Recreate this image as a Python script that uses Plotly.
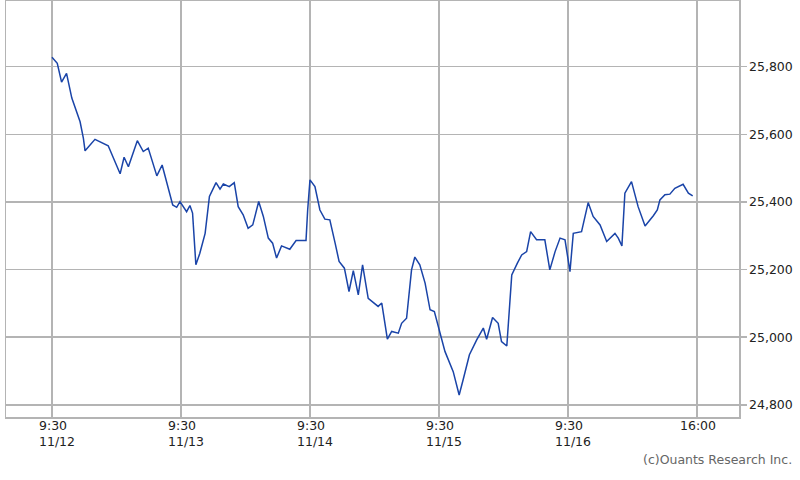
import plotly.graph_objects as go

# minutes since 9:30 on 11/12 (390 trading minutes per day)
minutes = [0, 16, 29, 44, 60, 75, 85, 95, 100, 130, 170, 206, 218, 231, 258, 276, 291, 317, 333, 365, 377, 387,
           407, 417, 425, 435, 447, 463, 476, 496, 508, 518, 536, 551, 563, 578, 593, 607, 625, 639, 654, 667,
           679, 694, 719, 738, 768, 773, 780,
           795, 810, 825, 840, 856, 868, 884, 898, 911, 926, 939, 956, 986, 997, 1014, 1027, 1047, 1057, 1072,
           1087, 1097, 1112, 1128, 1143, 1156, 1173,
           1188, 1213, 1231, 1243, 1262, 1284, 1304, 1314, 1332, 1349, 1359, 1375, 1382, 1390, 1407, 1420, 1435,
           1447, 1465, 1490, 1505, 1521, 1536, 1551, 1566,
           1576, 1601, 1621, 1636, 1657, 1677, 1702, 1712, 1723, 1732, 1752, 1772, 1793, 1818, 1830, 1838, 1853,
           1868, 1883, 1908, 1924, 1937]
prices = [25828, 25810, 25754, 25780, 25707, 25667, 25637, 25588, 25551, 25585, 25566, 25483, 25532, 25504, 25581,
          25549, 25559, 25477, 25509, 25391, 25384, 25401,
          25371, 25389, 25367, 25214, 25248, 25307, 25416, 25457, 25438, 25453, 25445, 25457, 25386, 25362, 25322,
          25332, 25401, 25357, 25293, 25278, 25234, 25270, 25260, 25286, 25286, 25376, 25465,
          25445, 25376, 25349, 25347, 25278, 25224, 25204, 25135, 25197, 25125, 25214, 25115, 25091, 25101, 24994,
          25017, 25012, 25041, 25056, 25199, 25237, 25214, 25160, 25081, 25076, 25012,
          24958, 24898, 24829, 24874, 24948, 24992, 25027, 24994, 25058, 25041, 24987, 24974, 25061, 25184, 25219,
          25243, 25253, 25312, 25288, 25288, 25199, 25253, 25293, 25288, 25194,
          25307, 25312, 25398, 25357, 25332, 25283, 25307, 25293, 25270, 25426, 25460, 25386, 25329, 25359, 25376,
          25406, 25421, 25423, 25440, 25452, 25426, 25418]

tick_minutes = [0, 390, 780, 1170, 1560, 1950]
tick_labels = ["9:30<br>11/12", "9:30<br>11/13", "9:30<br>11/14", "9:30<br>11/15", "9:30<br>11/16", "16:00"]
y_ticks = [24800, 25000, 25200, 25400, 25600, 25800]

GRID = "#b4b4b4"
FONT = "DejaVu Sans"

fig = go.Figure()
fig.add_trace(go.Scatter(x=minutes, y=prices, mode="lines",
                         line=dict(color="#1a44a8", width=1.5), hoverinfo="skip"))

annotations = []
for tv, tl in zip(tick_minutes, tick_labels):
    first = tl.split("<br>")[0]
    shift = -15 if first == "9:30" else -19
    annotations.append(dict(x=tv, xref="x", y=0, yref="paper", yshift=1, text=tl,
                            showarrow=False, xanchor="left", yanchor="top", align="left",
                            xshift=shift, font=dict(family=FONT, size=12.5, color="#222")))
annotations.append(dict(x=1.075, xref="paper", y=-0.103, yref="paper", text="(c)Ouants Research Inc.",
                        showarrow=False, xanchor="right", yanchor="middle",
                        font=dict(family=FONT, size=12.5, color="#666")))

fig.update_layout(
    width=800, height=480,
    margin=dict(l=6, r=61, t=1, b=63, autoexpand=False),
    paper_bgcolor="white", plot_bgcolor="white",
    showlegend=False,
    font=dict(family=FONT, size=12, color="#333"),
    xaxis=dict(range=[-139, 2077], tickvals=tick_minutes, showticklabels=False, automargin=False,
               showgrid=True, gridcolor=GRID, gridwidth=1.5, zeroline=False,
               showline=True, linecolor=GRID, linewidth=1.5, mirror=True, ticks=""),
    yaxis=dict(range=[24764, 25994], tickvals=y_ticks, tickformat=",d", side="right", automargin=False,
               showgrid=True, gridcolor=GRID, gridwidth=1.5, zeroline=False,
               showline=True, linecolor=GRID, linewidth=1.5, mirror=True,
               ticks="outside", ticklen=6, tickcolor=GRID, tickwidth=1.5,
               tickfont=dict(family=FONT, size=12.5, color="#222")),
    annotations=annotations,
)

fig.write_html("out.html", config={"displayModeBar": False, "staticPlot": True})

with open("out.html", "r", encoding="utf-8") as f:
    html = f.read()
html = html.replace("<head>", "<head><style>html,body{margin:0;padding:0;overflow:hidden;}</style>", 1)
with open("out.html", "w", encoding="utf-8") as f:
    f.write(html)
